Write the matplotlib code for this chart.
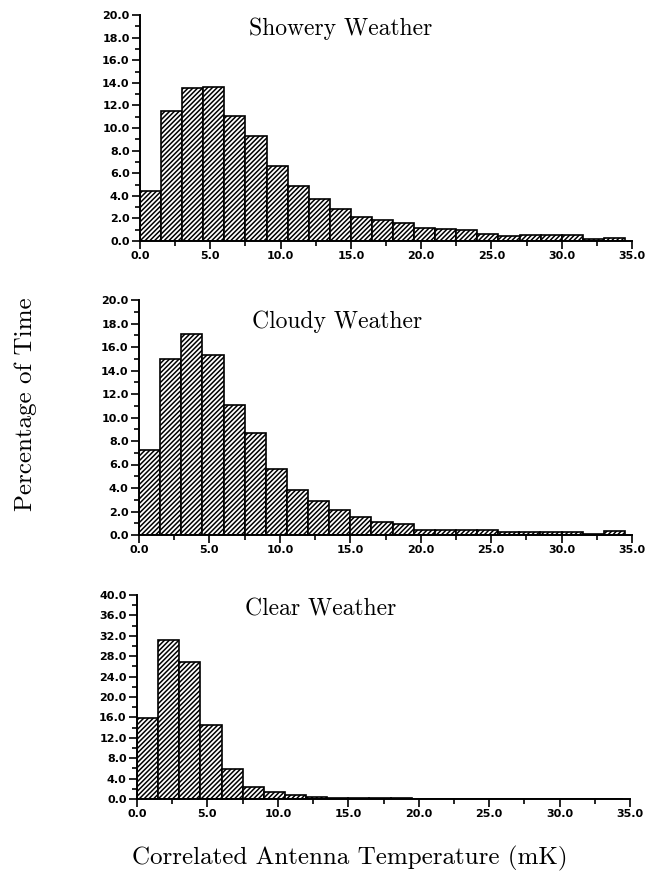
import matplotlib
matplotlib.use('Agg')
import matplotlib.pyplot as plt
import numpy as np

# histogram bins: 1.5 mK wide, starting at 0
BIN_WIDTH = 1.5
bin_left = np.arange(23) * BIN_WIDTH

showery = [4.4, 11.5, 13.5, 13.6, 11.1, 9.3, 6.65, 4.9, 3.7, 2.8, 2.1, 1.9,
           1.6, 1.15, 1.05, 1.0, 0.65, 0.4, 0.55, 0.5, 0.5, 0.2, 0.25]
cloudy = [7.2, 15.0, 17.1, 15.3, 11.1, 8.65, 5.6, 3.8, 2.9, 2.1, 1.55, 1.1,
          0.95, 0.45, 0.45, 0.4, 0.4, 0.25, 0.25, 0.25, 0.25, 0.1, 0.3]
clear = [15.8, 31.2, 26.9, 14.5, 5.8, 2.3, 1.4, 0.8, 0.4, 0.2, 0.15, 0.1,
         0.1, 0.05, 0.05, 0.05, 0.05, 0.05, 0.05, 0.05, 0.03, 0.03, 0.03]

titles = ['Showery Weather', 'Cloudy Weather', 'Clear Weather']
ymax = [20, 20, 40]
ystep = [2, 2, 4]
xticks = [0, 5, 10, 15, 20, 25, 30, 35]

W, H = 655, 886
plt.rcParams['hatch.linewidth'] = 1.1
fig = plt.figure(figsize=(W / 100, H / 100), dpi=100)


def px_box(left, right, bottom, top):
    return [left / W, 1 - bottom / H, (right - left) / W, (bottom - top) / H]


boxes = [px_box(140, 632, 241, 15),
         px_box(139, 632, 535, 300),
         px_box(137, 630, 799, 595)]
title_pos = [(249, 29), (252, 322), (245, 609)]

for data, title, top, step, box, tpos in zip(
        [showery, cloudy, clear], titles, ymax, ystep, boxes, title_pos):
    ax = fig.add_axes(box)
    ax.bar(bin_left, data, width=BIN_WIDTH, align='edge', facecolor='white',
           edgecolor='black', hatch='///////', linewidth=1.2)
    ax.set_xlim(0, 35)
    ax.set_ylim(0, top)
    for s in ['top', 'right']:
        ax.spines[s].set_visible(False)
    for s in ['left', 'bottom']:
        ax.spines[s].set_linewidth(1.4)
    yt = np.arange(0, top + 0.01, step)
    ax.set_yticks(yt)
    ax.set_yticklabels(['%.1f' % v for v in yt], fontweight='bold', fontsize=8)
    ax.set_yticks(np.arange(0, top + 0.01, step / 2), minor=True)
    ax.set_xticks(xticks)
    ax.set_xticklabels(['%.1f' % v for v in xticks], fontweight='bold', fontsize=8)
    ax.set_xticks(np.arange(0, 35.01, 2.5), minor=True)
    ax.tick_params(which='major', direction='out', length=6, width=1.2, pad=1.5)
    ax.tick_params(which='minor', direction='out', length=3.5, width=1.2)
    fig.text(tpos[0] / W, 1 - tpos[1] / H, title, family='cmr10', fontsize=17,
             ha='left', va='center')

fig.text(26 / W, 1 - 404 / H, 'Percentage of Time', family='cmr10',
         fontsize=18, rotation=90, ha='center', va='center')
fig.text(350 / W, 1 - 858 / H, 'Correlated Antenna Temperature (mK)',
         family='cmr10', fontsize=18, ha='center', va='center')

plt.savefig('out.png', dpi=100)
